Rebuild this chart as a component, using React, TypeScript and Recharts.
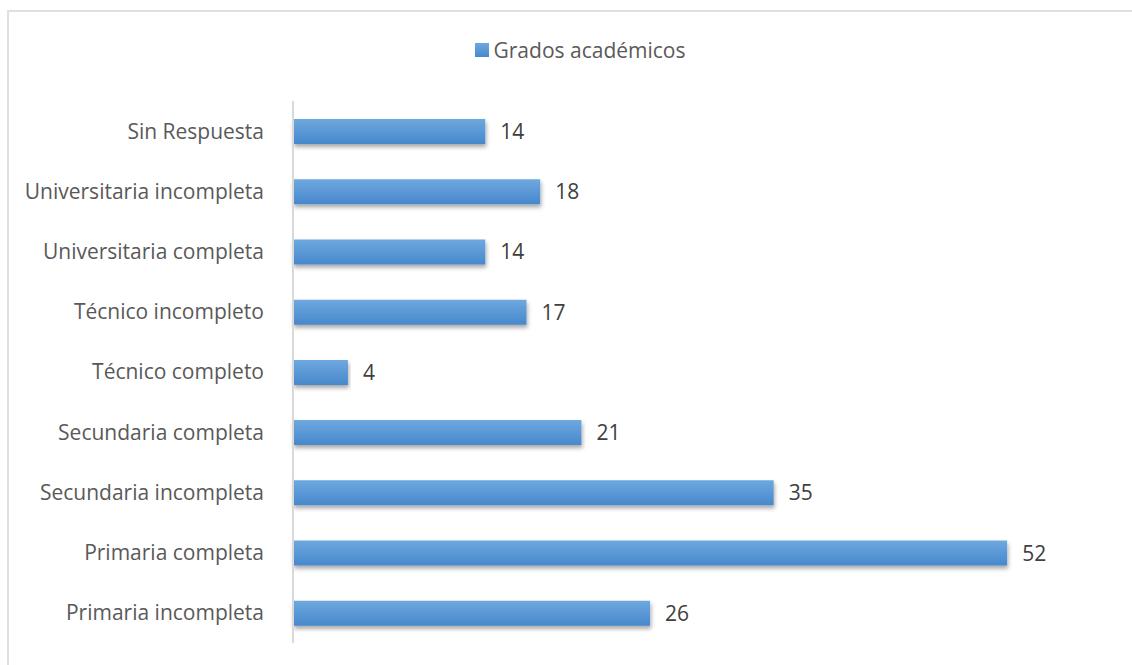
import { BarChart, Bar, XAxis, YAxis, Legend, LabelList } from "recharts";

const categories = [
  "Sin Respuesta",
  "Universitaria incompleta",
  "Universitaria completa",
  "Técnico incompleto",
  "Técnico completo",
  "Secundaria completa",
  "Secundaria incompleta",
  "Primaria completa",
  "Primaria incompleta",
];
const values = [14, 18, 14, 17, 4, 21, 35, 52, 26];
const seriesName = "Grados académicos";

const data = categories.map((c, i) => ({ name: c, value: values[i] }));

const font = "'Open Sans', 'Noto Sans', sans-serif";

// legend is rendered inside the chart, so its height eats into the top margin
function LegendBox() {
  return (
    <div
      style={{
        display: "flex",
        alignItems: "center",
        justifyContent: "center",
        height: 28,
        color: "#595959",
        fontSize: 21,
        fontFamily: font,
      }}
    >
      <span
        style={{
          display: "inline-block",
          width: 14,
          height: 14,
          marginRight: 5,
          background: "linear-gradient(#6ea8df, #4788cc)",
        }}
      />
      {seriesName}
    </div>
  );
}

export default function App() {
  return (
    <div
      style={{
        position: "absolute",
        left: 0,
        top: 0,
        width: 1132,
        height: 665,
        background: "#fff",
        fontFamily: font,
        overflow: "hidden",
      }}
    >
      <div
        style={{
          position: "absolute",
          left: 7,
          top: 10,
          width: 1200,
          height: 700,
          borderTop: "2px solid #e0e0e0",
          borderLeft: "2px solid #e0e0e0",
        }}
      />
      <BarChart
        width={1132}
        height={665}
        data={data}
        layout="vertical"
        margin={{ top: 73, right: 15, bottom: 22, left: 0 }}
        barCategoryGap="0%"
        style={{ position: "absolute", left: 0, top: 0 }}
      >
        <defs>
          <linearGradient id="barFill" x1="0" y1="0" x2="0" y2="1">
            <stop offset="0%" stopColor="#6ea8df" />
            <stop offset="100%" stopColor="#4788cc" />
          </linearGradient>
          <filter id="barShadow" x="-5%" y="-30%" width="110%" height="190%">
            <feDropShadow dx="1" dy="3" stdDeviation="2" floodColor="#000" floodOpacity="0.35" />
          </filter>
        </defs>
        <XAxis type="number" domain={[0, 60]} hide />
        <YAxis
          type="category"
          dataKey="name"
          width={293}
          tickLine={false}
          tickSize={0}
          tickMargin={29}
          axisLine={{ stroke: "#d9d9d9", strokeWidth: 2 }}
          tick={{ fontSize: 21, fill: "#595959", fontFamily: font }}
          interval={0}
        />
        <Legend
          verticalAlign="top"
          align="center"
          height={28}
          wrapperStyle={{ top: 36, left: 0, width: 1160 }}
          content={() => <LegendBox />}
        />
        <Bar
          dataKey="value"
          name={seriesName}
          fill="url(#barFill)"
          barSize={25}
          filter="url(#barShadow)"
          isAnimationActive={false}
        >
          <LabelList
            dataKey="value"
            position="right"
            offset={15}
            style={{ fontSize: 21, fill: "#404040", fontFamily: font }}
          />
        </Bar>
      </BarChart>
    </div>
  );
}
